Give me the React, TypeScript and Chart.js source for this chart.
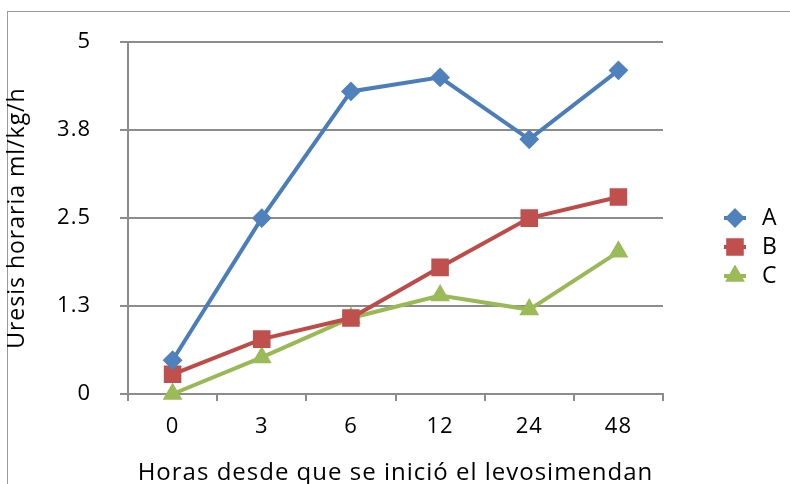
import React, { useEffect, useRef } from "react";
import { Chart, registerables } from "chart.js";

Chart.register(...registerables);

const categories = ["0", "3", "6", "12", "24", "48"];
const seriesNames = ["A", "B", "C"];
const seriesA = [0.48, 2.5, 4.3, 4.5, 3.62, 4.6];
const seriesB = [0.28, 0.78, 1.08, 1.8, 2.5, 2.8];
const seriesC = [0, 0.52, 1.08, 1.4, 1.2, 2.02];
const yTickValues = [0, 1.25, 2.5, 3.75, 5];
const yTickLabels = ["0", "1.3", "2.5", "3.8", "5"];
const yTitle = "Uresis horaria ml/kg/h";
const xTitle = "Horas desde que se inició el levosimendan";

const FONT = "'Open Sans', 'DejaVu Sans', sans-serif";
const GRID = "#8c8c8c";
const SPACING = "1px";

const lineColors = ["#4a7ebb", "#be4b48", "#98b954"];
const markerColors = ["#4f81bd", "#c0504d", "#9bbb59"];
const markerStyles = ["rectRot", "rect", "triangle"];
const markerRadius = [8.5, 11, 9.5];

function drawMarker(ctx: CanvasRenderingContext2D, style: string, x: number, y: number, r: number, color: string) {
  ctx.save();
  ctx.fillStyle = color;
  ctx.strokeStyle = color;
  ctx.lineWidth = 2;
  ctx.beginPath();
  if (style === "rectRot") {
    ctx.moveTo(x, y - r);
    ctx.lineTo(x + r, y);
    ctx.lineTo(x, y + r);
    ctx.lineTo(x - r, y);
  } else if (style === "rect") {
    const s = r * Math.SQRT1_2;
    ctx.rect(x - s, y - s, 2 * s, 2 * s);
  } else {
    const h = r * 0.866;
    ctx.moveTo(x, y - r);
    ctx.lineTo(x + h, y + r / 2);
    ctx.lineTo(x - h, y + r / 2);
  }
  ctx.closePath();
  ctx.fill();
  ctx.stroke();
  ctx.restore();
}

function setSpacing(chart: any) {
  const ctx: any = chart.ctx;
  if (ctx && "letterSpacing" in ctx) ctx.letterSpacing = SPACING;
}

const framePlugin = {
  id: "frame",
  beforeInit(chart: any) {
    setSpacing(chart);
  },
  beforeLayout(chart: any) {
    setSpacing(chart);
  },
  beforeDraw(chart: any) {
    setSpacing(chart);
    const ctx = chart.ctx;
    ctx.save();
    ctx.fillStyle = "#ffffff";
    ctx.fillRect(0, 0, chart.width, chart.height);
    ctx.strokeStyle = "#9a9a9a";
    ctx.lineWidth = 1;
    ctx.strokeRect(7.5, 11.5, chart.width + 20, chart.height + 20);
    ctx.restore();
  },
};

const legendPlugin = {
  id: "customLegend",
  afterDraw(chart: any) {
    const ctx = chart.ctx;
    const xMarker = 735;
    const xText = 762;
    const yStart = 218;
    const step = 29;
    chart.data.datasets.forEach((ds: any, i: number) => {
      const y = yStart + i * step;
      ctx.save();
      ctx.strokeStyle = lineColors[i];
      ctx.lineWidth = 4;
      ctx.beginPath();
      ctx.moveTo(xMarker - 11, y);
      ctx.lineTo(xMarker + 11, y);
      ctx.stroke();
      ctx.restore();
      drawMarker(ctx, markerStyles[i], xMarker, y, markerRadius[i], markerColors[i]);
      ctx.save();
      ctx.fillStyle = "#000000";
      ctx.font = `23px ${FONT}`;
      ctx.textAlign = "left";
      ctx.textBaseline = "middle";
      ctx.fillText(ds.label, xText, y);
      ctx.restore();
    });
  },
};

export default function App() {
  const ref = useRef<HTMLCanvasElement | null>(null);

  useEffect(() => {
    if (!ref.current) return;
    const values = [seriesA, seriesB, seriesC];
    const chart = new Chart(ref.current, {
      type: "line",
      data: {
        labels: categories,
        datasets: values.map((v, i) => ({
          label: seriesNames[i],
          data: v,
          borderColor: lineColors[i],
          backgroundColor: markerColors[i],
          borderWidth: 4,
          pointStyle: markerStyles[i] as any,
          pointRadius: markerRadius[i],
          pointHoverRadius: markerRadius[i],
          pointBackgroundColor: markerColors[i],
          pointBorderColor: markerColors[i],
          pointBorderWidth: 2,
          tension: 0,
          clip: false as any,
        })),
      },
      options: {
        responsive: false,
        animation: false,
        devicePixelRatio: 1,
        layout: { padding: { left: 0, top: 40, right: 127, bottom: 0 } },
        plugins: {
          legend: { display: false },
          tooltip: { enabled: false },
        },
        scales: {
          x: {
            type: "category",
            offset: true,
            grid: {
              display: true,
              offset: true,
              drawOnChartArea: false,
              drawTicks: true,
              tickLength: 7,
              color: GRID,
              lineWidth: 2,
            },
            border: { display: true, color: GRID, width: 2 },
            ticks: {
              color: "#000000",
              font: { family: FONT, size: 22 },
              padding: 13,
              maxRotation: 0,
              autoSkip: false,
            },
            title: {
              display: true,
              text: xTitle,
              color: "#000000",
              font: { family: FONT, size: 24 },
              padding: { top: 0, bottom: -4 },
            },
            afterFit(scale: any) {
              scale.height = 90;
            },
          },
          y: {
            type: "linear",
            min: 0,
            max: 5,
            afterBuildTicks(scale: any) {
              scale.ticks = yTickValues.map((v) => ({ value: v }));
            },
            grid: {
              display: true,
              drawTicks: true,
              tickLength: 8,
              color: GRID,
              lineWidth: 2,
            },
            border: { display: true, color: GRID, width: 2 },
            ticks: {
              color: "#000000",
              font: { family: FONT, size: 22 },
              padding: 29,
              callback: (_v: any, idx: number) => yTickLabels[idx],
            },
            title: {
              display: true,
              text: yTitle,
              color: "#000000",
              font: { family: FONT, size: 23 },
              padding: { top: 4, bottom: 0 },
            },
            afterFit(scale: any) {
              scale.width = 128;
            },
          },
        },
      },
      plugins: [framePlugin, legendPlugin],
    });
    return () => chart.destroy();
  }, []);

  return (
    <div style={{ position: "absolute", left: 0, top: 0, width: 790, height: 484, overflow: "hidden" }}>
      <canvas ref={ref} width={790} height={484} style={{ display: "block", width: 790, height: 484 }} />
    </div>
  );
}
